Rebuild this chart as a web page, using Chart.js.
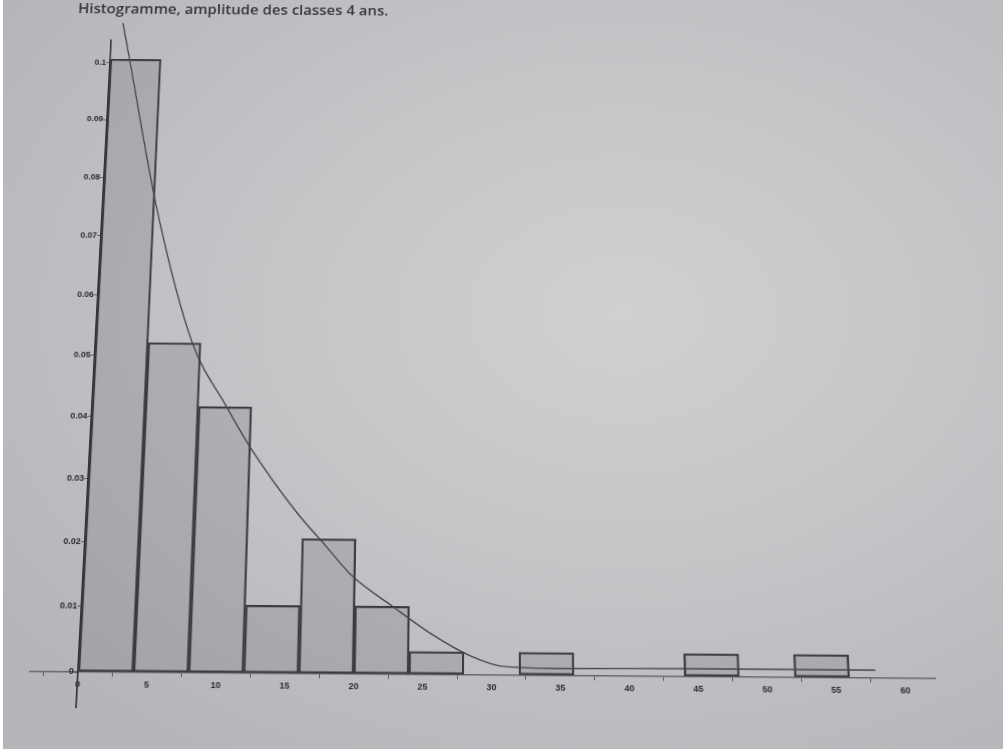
<!DOCTYPE html>
<html>
<head>
<meta charset="utf-8">
<script src="https://cdn.jsdelivr.net/npm/chart.js@4"></script>
<style>
  html, body { margin: 0; padding: 0; background: #fff; }
  #page { position: relative; width: 1006px; height: 753px; overflow: hidden; background: #fff; }
  #paper {
    position: absolute; left: 3px; top: 0; width: 1000px; height: 749px;
    background: radial-gradient(ellipse 75% 70% at 62% 42%, #d0d0d3 0%, #c6c6c9 45%, #b6b6ba 100%);
  }
  #wrap { position: absolute; left: 0; top: 0; width: 1006px; height: 753px; filter: blur(0.5px); }
  /* the printed sheet is seen slightly from below: a projective tilt around the origin of the axes */
  #sheet {
    position: absolute; left: 0; top: -80px; width: 1006px; height: 833px;
    transform-origin: 78px 752px;
    transform: matrix3d(1, 0.0077, 0, 0, -0.05257, 1, 0, -0.00012948, 0, 0, 1, 0, 0, 0, 0, 1);
  }
  #title {
    position: absolute; left: 40px; top: 18px;
    font: 600 16.4px "Open Sans", sans-serif; line-height: 16px;
    color: #38383b; white-space: nowrap;
  }
  #c { position: absolute; left: 0; top: 0; }
</style>
</head>
<body>
<div id="page">
  <div id="paper"></div>
  <div id="wrap">
    <div id="sheet">
      <div id="title">Histogramme, amplitude des classes 4 ans.</div>
      <canvas id="c" width="1006" height="833"></canvas>
    </div>
  </div>
</div>
<script>
// Histogram classes (lower bound of each class, width 4 years) and their densities
const classStarts = [0, 4, 8, 12, 16, 20, 24, 32, 44, 52];
const classWidth = 4;
const densities = [0.1007, 0.0521, 0.0417, 0.0104, 0.0208, 0.0104, 0.0035, 0.0035, 0.0035, 0.0035];

// Fitted density curve drawn over the histogram
const curveX = [0.84, 1.47, 4.23, 7.33, 10.08, 11.98, 15.54, 17.73, 19.78, 22.75, 25.54, 28.47, 31.0, 35, 45, 57.9];
const curveY = [0.1072, 0.1011, 0.0743, 0.0522, 0.0418, 0.0352, 0.0250, 0.0198, 0.0150, 0.0104, 0.0063, 0.0029, 0.0013, 0.0011, 0.0012, 0.0012];

// Axis ticks
const xTickValues = [0, 5, 10, 15, 20, 25, 30, 35, 40, 45, 50, 55, 60];
const xTickLabels = ['0', '5', '10', '15', '20', '25', '30', '35', '40', '45', '50', '55', '60'];
const yTickValues = [0, 0.01, 0.02, 0.03, 0.04, 0.05, 0.06, 0.07, 0.08, 0.09, 0.1];
const yTickLabels = ['0', '0.01', '0.02', '0.03', '0.04', '0.05', '0.06', '0.07', '0.08', '0.09', '0.1'];

const barPoints = classStarts.map((s, i) => ({ x: s + classWidth / 2, y: densities[i] }));
const curvePoints = curveX.map((x, i) => ({ x: x, y: curveY[i] }));

const tickFont = { family: 'Liberation Sans', size: 9, weight: 'bold' };

new Chart(document.getElementById('c'), {
  type: 'bar',
  data: {
    datasets: [
      {
        type: 'line',
        data: curvePoints,
        borderColor: '#48484c',
        borderWidth: 1.4,
        pointRadius: 0,
        cubicInterpolationMode: 'monotone',
        fill: false,
        clip: false,
        order: 0
      },
      {
        type: 'bar',
        data: barPoints,
        backgroundColor: 'rgba(40, 40, 48, 0.13)',
        borderColor: '#3c3c40',
        borderWidth: 1.6,
        borderSkipped: false,
        barPercentage: 1,
        categoryPercentage: 1,
        order: 1
      }
    ]
  },
  options: {
    responsive: false,
    animation: false,
    devicePixelRatio: 1,
    layout: { padding: { left: 30, right: 71, top: 64, bottom: 46 } },
    plugins: {
      legend: { display: false },
      tooltip: { enabled: false },
      title: { display: false }
    },
    scales: {
      x: {
        type: 'linear',
        position: { y: 0 },
        min: -3.5,
        max: 62.2,
        bounds: 'data',
        offset: false,
        afterBuildTicks: (scale) => { scale.ticks = xTickValues.map(v => ({ value: v })); },
        ticks: {
          autoSkip: false, maxRotation: 0, padding: 3,
          color: '#2c2c2f', font: tickFont,
          callback: (v, i) => xTickLabels[i]
        },
        grid: { display: true, drawOnChartArea: false, drawTicks: true, tickLength: 4, color: '#5a5a5e' },
        border: { display: true, color: '#68686c', width: 1.4 }
      },
      y: {
        type: 'linear',
        position: { x: 0 },
        min: -0.005294,
        max: 0.104069,
        bounds: 'data',
        afterBuildTicks: (scale) => { scale.ticks = yTickValues.map(v => ({ value: v })); },
        ticks: {
          autoSkip: false, padding: 3,
          color: '#2c2c2f', font: tickFont,
          // an en space keeps each label clear of the axis line
          callback: (v, i) => yTickLabels[i] + '\u2002'
        },
        grid: { display: true, drawOnChartArea: false, drawTicks: true, tickLength: 3, color: '#5a5a5e' },
        border: { display: true, color: '#303033', width: 1.6 }
      }
    }
  }
});
</script>
</body>
</html>
